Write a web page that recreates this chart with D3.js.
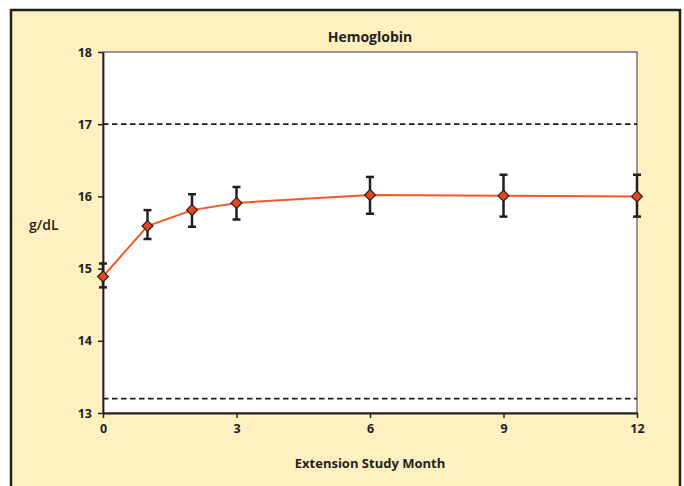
<!DOCTYPE html>
<html lang="en">
<head>
<meta charset="utf-8">
<title>Hemoglobin</title>
<script src="https://cdn.jsdelivr.net/npm/d3@7"></script>
<style>
  body { margin: 0; background: #fff; }
  text { font-family: "Open Sans", "DejaVu Sans", sans-serif; fill: #231f20; }
</style>
</head>
<body>
<script>
// data
var months = [0, 1, 2, 3, 6, 9, 12];
var hgb = [14.89, 15.59, 15.81, 15.91, 16.02, 16.01, 16.0];
var errHigh = [15.07, 15.81, 16.03, 16.13, 16.27, 16.30, 16.30];
var errLow = [14.74, 15.41, 15.58, 15.68, 15.76, 15.72, 15.72];
var xTicks = [0, 3, 6, 9, 12];
var yTicks = [13, 14, 15, 16, 17, 18];
var refLines = [17, 13.2];

var w = 684, h = 486;
var plot = { left: 103, top: 52, right: 637, bottom: 413 };

var svg = d3.select("body").append("svg")
  .attr("width", w)
  .attr("height", h);

// yellow panel
svg.append("rect")
  .attr("x", 11).attr("y", 10)
  .attr("width", 669).attr("height", 490)
  .attr("fill", "#fff0c0")
  .attr("stroke", "#231f20")
  .attr("stroke-width", 2.5);

var x = d3.scaleLinear().domain([0, 12]).range([plot.left, plot.right]);
var y = d3.scaleLinear().domain([13, 18]).range([plot.bottom, plot.top]);

// plot area
svg.append("rect")
  .attr("x", plot.left).attr("y", plot.top)
  .attr("width", plot.right - plot.left)
  .attr("height", plot.bottom - plot.top)
  .attr("fill", "#fff")
  .attr("stroke", "#555")
  .attr("stroke-width", 1.2);

// reference (normal range) lines
svg.selectAll("line.ref")
  .data(refLines)
  .enter().append("line")
  .attr("class", "ref")
  .attr("x1", plot.left).attr("x2", plot.right)
  .attr("y1", function(d) { return y(d); })
  .attr("y2", function(d) { return y(d); })
  .attr("stroke", "#231f20")
  .attr("stroke-width", 1.8)
  .attr("stroke-dasharray", "5.5,3.5");

// axes
var xAxis = svg.append("g")
  .attr("transform", "translate(0," + plot.bottom + ")")
  .call(d3.axisBottom(x).tickValues(xTicks).tickFormat(d3.format("d"))
    .tickSize(5).tickPadding(6).tickSizeOuter(0));
var yAxis = svg.append("g")
  .attr("transform", "translate(" + plot.left + ",0)")
  .call(d3.axisLeft(y).tickValues(yTicks).tickFormat(d3.format("d"))
    .tickSize(5).tickPadding(6).tickSizeOuter(0));

[xAxis, yAxis].forEach(function(g) {
  g.select(".domain").attr("stroke", "#231f20").attr("stroke-width", 1.8);
  g.selectAll(".tick line").attr("stroke", "#231f20").attr("stroke-width", 1.5);
  g.selectAll(".tick text")
    .attr("font-family", "'Open Sans', sans-serif")
    .attr("font-size", 12.5)
    .attr("font-weight", 700)
    .attr("fill", "#231f20");
});

// line
var line = d3.line()
  .x(function(d, i) { return x(months[i]); })
  .y(function(d) { return y(d); });

svg.append("path")
  .datum(hgb)
  .attr("d", line)
  .attr("fill", "none")
  .attr("stroke", "#f05a28")
  .attr("stroke-width", 2);

// error bars
var eb = svg.selectAll("g.err")
  .data(months)
  .enter().append("g")
  .attr("class", "err");

eb.append("line")
  .attr("x1", function(d) { return x(d); })
  .attr("x2", function(d) { return x(d); })
  .attr("y1", function(d, i) { return y(errHigh[i]); })
  .attr("y2", function(d, i) { return y(errLow[i]); })
  .attr("stroke", "#231f20")
  .attr("stroke-width", 2.5);

[errHigh, errLow].forEach(function(arr) {
  eb.append("line")
    .attr("x1", function(d) { return x(d) - 4; })
    .attr("x2", function(d) { return x(d) + 4; })
    .attr("y1", function(d, i) { return y(arr[i]); })
    .attr("y2", function(d, i) { return y(arr[i]); })
    .attr("stroke", "#231f20")
    .attr("stroke-width", 2.5);
});

// diamond markers
svg.selectAll("path.pt")
  .data(hgb)
  .enter().append("path")
  .attr("class", "pt")
  .attr("d", d3.symbol().type(d3.symbolDiamond2).size(75))
  .attr("transform", function(d, i) { return "translate(" + x(months[i]) + "," + y(d) + ")"; })
  .attr("fill", "#e8461e")
  .attr("stroke", "#231f20")
  .attr("stroke-width", 1.2);

// titles
svg.append("text")
  .attr("x", (plot.left + plot.right) / 2)
  .attr("y", 42)
  .attr("text-anchor", "middle")
  .attr("font-size", 14)
  .attr("font-weight", 700)
  .text("Hemoglobin");

svg.append("text")
  .attr("x", 29)
  .attr("y", 230)
  .attr("font-size", 14)
  .attr("font-weight", 600)
  .text("g/dL");

svg.append("text")
  .attr("x", (plot.left + plot.right) / 2)
  .attr("y", 468)
  .attr("text-anchor", "middle")
  .attr("font-size", 13)
  .attr("font-weight", 700)
  .text("Extension Study Month");
</script>
</body>
</html>
